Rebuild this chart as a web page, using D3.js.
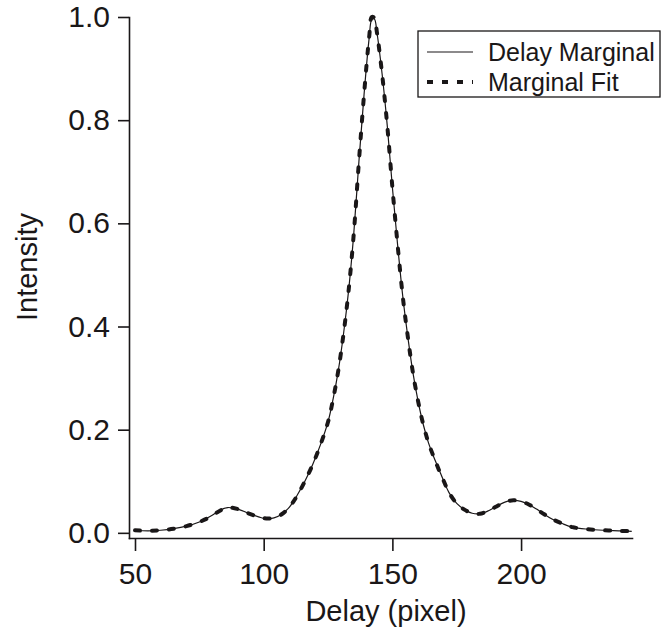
<!DOCTYPE html>
<html>
<head>
<meta charset="utf-8">
<script src="https://cdn.jsdelivr.net/npm/d3@7"></script>
<style>
  html, body { margin: 0; padding: 0; background: #fff; }
  svg { display: block; font-family: "Liberation Sans", Arial, Helvetica, sans-serif; }
  .axis path, .axis line { stroke: #1a1718; stroke-width: 1.6; }
  .axis text { fill: #1a1718; font-size: 30px; }
  .axis-label { fill: #1a1718; font-size: 29px; }
  .legend text { fill: #1a1718; font-size: 25px; }
</style>
</head>
<body>
<div id="chart"></div>
<script>
const delay = [50, 55, 60, 65, 70, 75, 80, 83, 86, 90, 94, 98, 101, 104, 107, 110, 113, 116, 119, 122, 125, 127, 129, 131, 133, 135, 137, 139, 141, 142, 143, 144, 146, 148, 150, 152, 154, 156, 158, 160, 162, 164, 166, 168, 170, 172, 175, 178, 181, 184, 187, 190, 194, 197, 200, 203, 206, 209, 212, 216, 220, 226, 232, 238, 243];
const marginal = [0.005, 0.004, 0.005, 0.008, 0.013, 0.021, 0.034, 0.044, 0.049, 0.046, 0.038, 0.031, 0.027, 0.029, 0.036, 0.05, 0.073, 0.1, 0.132, 0.17, 0.215, 0.26, 0.315, 0.385, 0.47, 0.58, 0.72, 0.85, 0.96, 0.995, 0.996, 0.97, 0.89, 0.79, 0.67, 0.56, 0.46, 0.38, 0.31, 0.255, 0.21, 0.175, 0.148, 0.124, 0.1, 0.078, 0.057, 0.045, 0.038, 0.037, 0.042, 0.05, 0.06, 0.063, 0.061, 0.055, 0.046, 0.036, 0.027, 0.018, 0.011, 0.007, 0.005, 0.004, 0.003];
const fit = [0.005, 0.004, 0.005, 0.008, 0.013, 0.021, 0.033, 0.043, 0.049, 0.046, 0.038, 0.031, 0.028, 0.029, 0.036, 0.05, 0.072, 0.1, 0.132, 0.17, 0.215, 0.26, 0.315, 0.385, 0.47, 0.58, 0.72, 0.85, 0.962, 1.0, 0.998, 0.97, 0.89, 0.79, 0.67, 0.56, 0.46, 0.38, 0.31, 0.255, 0.21, 0.175, 0.148, 0.123, 0.1, 0.078, 0.057, 0.045, 0.038, 0.037, 0.042, 0.05, 0.06, 0.063, 0.061, 0.055, 0.046, 0.036, 0.027, 0.018, 0.011, 0.007, 0.005, 0.004, 0.003];

const xTicks = [50, 100, 150, 200];
const yTicks = [0, 0.2, 0.4, 0.6, 0.8, 1.0];
const seriesNames = ['Delay Marginal', 'Marginal Fit'];

const W = 671, H = 637;
const xMin = 47.67, xMax = 243.1, yMin = -0.01;

const svg = d3.select('#chart').append('svg')
    .attr('width', W)
    .attr('height', H);

// Scales
const xScale = d3.scaleLinear()
    .domain([xMin, xMax])
    .range([129, 632]);

const yScale = d3.scaleLinear()
    .domain([yMin, 1.0])
    .range([538, 17]);

// Axes
svg.append('g')
    .attr('class', 'axis')
    .attr('transform', `translate(0,${yScale(yMin)})`)
    .call(d3.axisBottom(xScale).tickValues(xTicks).tickSize(13).tickSizeOuter(0).tickPadding(12)
        .tickFormat(d3.format('d')));

svg.append('g')
    .attr('class', 'axis')
    .attr('transform', `translate(${xScale(xMin)},0)`)
    .call(d3.axisLeft(yScale).tickValues(yTicks).tickSize(11).tickSizeOuter(0).tickPadding(8)
        .tickFormat(d3.format('.1f')));

svg.selectAll('.axis .domain').attr('stroke-linecap', 'square');

// Axis labels
svg.append('text')
    .attr('class', 'axis-label')
    .attr('x', 386)
    .attr('y', 621)
    .attr('text-anchor', 'middle')
    .text('Delay (pixel)');

svg.append('text')
    .attr('class', 'axis-label')
    .attr('transform', 'rotate(-90)')
    .attr('x', -267)
    .attr('y', 37)
    .attr('text-anchor', 'middle')
    .text('Intensity');

// Lines
const line = d3.line()
    .x((d, i) => xScale(delay[i]))
    .y(d => yScale(d))
    .curve(d3.curveCatmullRom.alpha(0.5));

svg.append('path')
    .datum(fit)
    .attr('fill', 'none')
    .attr('stroke', '#1a1718')
    .attr('stroke-width', 4)
    .attr('stroke-dasharray', '5 12')
    .attr('stroke-linecap', 'round')
    .attr('d', line);

svg.append('path')
    .datum(marginal)
    .attr('fill', 'none')
    .attr('stroke', '#1a1718')
    .attr('stroke-width', 1.2)
    .attr('d', line);

// Legend
const legend = svg.append('g')
    .attr('class', 'legend')
    .attr('transform', 'translate(418,31)');

legend.append('rect')
    .attr('width', 242)
    .attr('height', 66)
    .attr('fill', '#fff')
    .attr('stroke', '#1a1718')
    .attr('stroke-width', 1.3);

seriesNames.forEach((name, i) => {
    const y = 21 + i * 30;
    legend.append('line')
        .attr('x1', 9)
        .attr('x2', 55)
        .attr('y1', y)
        .attr('y2', y)
        .attr('stroke', '#1a1718')
        .attr('stroke-width', i === 0 ? 1.2 : 4)
        .attr('stroke-dasharray', i === 0 ? null : '6 9');
    legend.append('text')
        .attr('x', 70)
        .attr('y', y + 9)
        .text(name);
});
</script>
</body>
</html>
